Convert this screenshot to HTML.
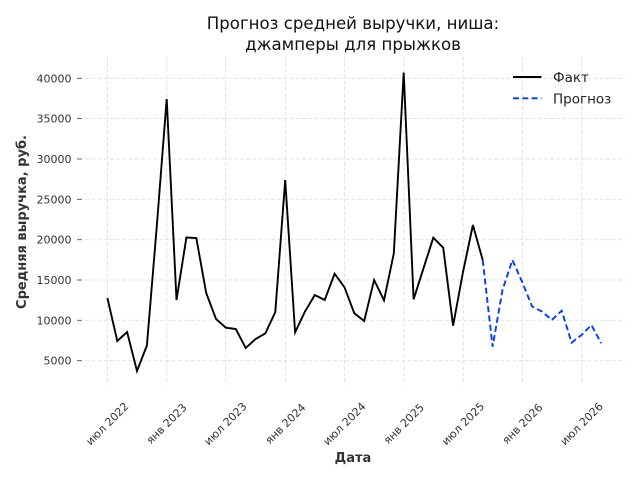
<!DOCTYPE html>
<html><head><meta charset="utf-8"><style>
html,body{margin:0;padding:0;background:#fff;}
svg{display:block;font-family:"DejaVu Sans","Liberation Sans",sans-serif;}
</style></head><body>
<svg width="640" height="480" viewBox="0 0 640 480" xmlns="http://www.w3.org/2000/svg">
<rect width="640" height="480" fill="#fff"/>
<g stroke="#e0e0e0" stroke-width="0.9" stroke-dasharray="4,2.2" fill="none">
<line x1="85" y1="78.3" x2="625" y2="78.3"/>
<line x1="85" y1="118.6" x2="625" y2="118.6"/>
<line x1="85" y1="159" x2="625" y2="159"/>
<line x1="85" y1="199.3" x2="625" y2="199.3"/>
<line x1="85" y1="239.7" x2="625" y2="239.7"/>
<line x1="85" y1="280" x2="625" y2="280"/>
<line x1="85" y1="320.3" x2="625" y2="320.3"/>
<line x1="85" y1="360.7" x2="625" y2="360.7"/>
<line x1="107.4" y1="56" x2="107.4" y2="385"/>
<line x1="166.7" y1="56" x2="166.7" y2="385"/>
<line x1="225.6" y1="56" x2="225.6" y2="385"/>
<line x1="285.6" y1="56" x2="285.6" y2="385"/>
<line x1="344.6" y1="56" x2="344.6" y2="385"/>
<line x1="404" y1="56" x2="404" y2="385"/>
<line x1="463.2" y1="56" x2="463.2" y2="385"/>
<line x1="522.6" y1="56" x2="522.6" y2="385"/>
<line x1="581.8" y1="56" x2="581.8" y2="385"/>
</g>
<g stroke="#555" stroke-width="0.9">
<line x1="77" y1="78.3" x2="82" y2="78.3"/>
<line x1="77" y1="118.6" x2="82" y2="118.6"/>
<line x1="77" y1="159" x2="82" y2="159"/>
<line x1="77" y1="199.3" x2="82" y2="199.3"/>
<line x1="77" y1="239.7" x2="82" y2="239.7"/>
<line x1="77" y1="280" x2="82" y2="280"/>
<line x1="77" y1="320.3" x2="82" y2="320.3"/>
<line x1="77" y1="360.7" x2="82" y2="360.7"/>
</g>
<g font-size="11" fill="#333" text-anchor="end">
<text x="71.5" y="82.3">40000</text>
<text x="71.5" y="122.6">35000</text>
<text x="71.5" y="163">30000</text>
<text x="71.5" y="203.3">25000</text>
<text x="71.5" y="243.7">20000</text>
<text x="71.5" y="284">15000</text>
<text x="71.5" y="324.3">10000</text>
<text x="71.5" y="364.7">5000</text>
</g>
<g font-size="11" fill="#333" text-anchor="middle" dominant-baseline="central">
<text transform="translate(107.4,424) rotate(-45)">июл 2022</text>
<text transform="translate(166.7,424) rotate(-45)">янв 2023</text>
<text transform="translate(225.6,424) rotate(-45)">июл 2023</text>
<text transform="translate(285.6,424) rotate(-45)">янв 2024</text>
<text transform="translate(344.6,424) rotate(-45)">июл 2024</text>
<text transform="translate(404,424) rotate(-45)">янв 2025</text>
<text transform="translate(463.2,424) rotate(-45)">июл 2025</text>
<text transform="translate(522.6,424) rotate(-45)">янв 2026</text>
<text transform="translate(581.8,424) rotate(-45)">июл 2026</text>
</g>
<text x="353" y="462" font-size="13" font-weight="bold" fill="#333" text-anchor="middle">Дата</text>
<text transform="translate(26,222) rotate(-90)" font-size="13" font-weight="bold" fill="#333" text-anchor="middle">Средняя выручка, руб.</text>
<g font-size="16.6" fill="#111" text-anchor="middle">
<text x="353" y="29">Прогноз средней выручки, ниша:</text>
<text x="353" y="50">джамперы для прыжков</text>
</g>
<polyline fill="none" stroke="#000" stroke-width="1.9" stroke-linejoin="miter" points="107.4,298 117.3,341 127.1,332 137,371 146.9,345.5 156.8,226 166.7,99 176.5,300 186.4,237.5 196.3,238 206.2,293 216,319 225.9,327.7 235.8,329 245.7,348 255.6,339 265.4,333.3 275.3,312 285.2,180 295.1,332.3 304.9,311.7 314.8,295 324.7,300 334.6,273.7 344.5,287.3 354.3,313.3 364.2,321 374.1,280 384,300.3 393.8,253.5 403.7,72.5 413.6,299.3 423.5,268.3 433.3,237.7 443.2,247.7 453.1,325.7 463,272 472.9,225 482.7,260"/>
<polyline fill="none" stroke="#003DFD" stroke-width="1.9" stroke-dasharray="6,3.3" points="482.7,260 492.6,346.7 502.5,290 512.4,260 522.2,282 532.1,306.5 542,311.5 551.9,320 561.7,310.7 571.6,342.7 581.5,335 591.4,325 601.2,343.3"/>
<line x1="513" y1="77" x2="541.5" y2="77" stroke="#000" stroke-width="1.9"/>
<line x1="513" y1="98.3" x2="541.5" y2="98.3" stroke="#003DFD" stroke-width="1.9" stroke-dasharray="6,3.3"/>
<g font-size="13.5" fill="#222">
<text x="553" y="82">Факт</text>
<text x="553" y="103.5">Прогноз</text>
</g>
</svg>
</body></html>
